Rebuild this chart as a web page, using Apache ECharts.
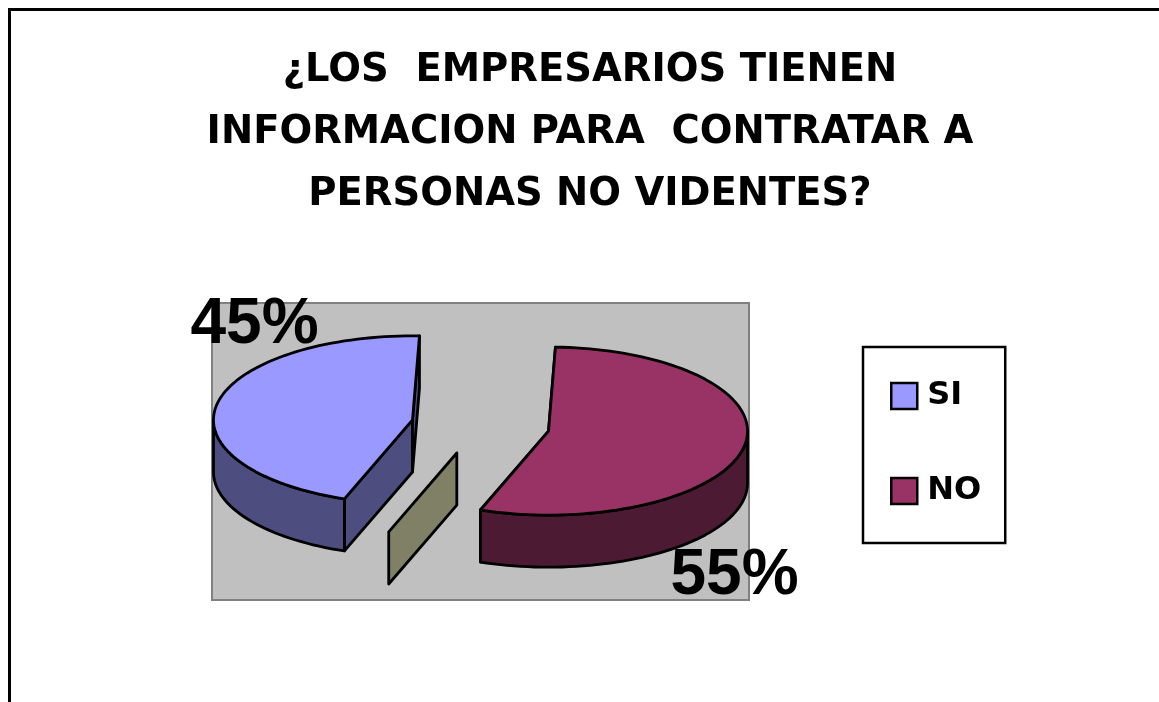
<!DOCTYPE html>
<html>
<head>
<meta charset="utf-8">
<title>Empresarios</title>
<style>
    html, body { margin: 0; padding: 0; background: #fff; }
    #main { width: 1159px; height: 702px; }
</style>
<script src="https://cdn.jsdelivr.net/npm/echarts@6/dist/echarts.min.js"></script>
</head>
<body>
<div id="main"></div>
<script>
    // datos
    const titleLines = ['¿LOS  EMPRESARIOS TIENEN', 'INFORMACION PARA  CONTRATAR A', 'PERSONAS NO VIDENTES?']
    const categories = ['SI', 'NO', '']
    const values = [45, 55, 0]
    const legendNames = ['SI', 'NO']

    const topColors = ['#9999ff', '#993366', '#ffffcc']
    const wallColors = ['#4d4d80', '#4d1a33', '#808066']
    // desplazamiento de la etiqueta respecto al vertice de la porcion, en px
    const labelOffsets = [[-158, -95], [186, 145], [0, 0]]

    const firstAngle = 200
    const explode = 0.348
    const depth = 0.62
    const titleFont = '"DejaVu Sans"'

    const total = values.reduce((a, b) => a + b, 0)
    const rad = d => d * Math.PI / 180

    function sliceAngles(index) {
        let a0 = firstAngle
        for (let i = 0; i < index; i++) a0 += values[i] / total * 360
        return [a0, a0 + values[index] / total * 360]
    }

    function arcPoints(a0, a1, ax, ay) {
        const pts = []
        const steps = Math.max(1, Math.ceil((a1 - a0) / 2))
        for (let i = 0; i <= steps; i++) {
            const t = rad(a0 + (a1 - a0) * i / steps)
            pts.push([ax + Math.sin(t), ay + Math.cos(t)])
        }
        return pts
    }

    const makeRender = (index) => (params, api) => {
        const [a0, a1] = sliceAngles(index)
        const mid = rad((a0 + a1) / 2)
        const ax = explode * Math.sin(mid)
        const ay = explode * Math.cos(mid)
        const line = { stroke: '#000', lineWidth: 2.8, lineJoin: 'round' }
        const poly = (pts, fill) => ({
            type: 'polygon',
            shape: { points: pts.map(p => api.coord(p)) },
            style: Object.assign({ fill }, line)
        })
        const low = p => [p[0], p[1] - depth]
        const children = []

        // paredes radiales
        const wallAngles = a1 > a0 ? [a0, a1] : [a0]
        wallAngles.forEach(a => {
            const rim = arcPoints(a, a, ax, ay)[0]
            const apex = [ax, ay]
            children.push(poly([apex, rim, low(rim), low(apex)], wallColors[index]))
        })

        // pared exterior, solo la parte que mira al frente
        ;[[90, 270], [450, 630]].forEach(([f0, f1]) => {
            const s = Math.max(a0, f0)
            const e = Math.min(a1, f1)
            if (e > s) {
                const rim = arcPoints(s, e, ax, ay)
                children.push(poly(rim.concat(rim.map(low).reverse()), wallColors[index]))
            }
        })

        // cara superior
        if (a1 > a0) {
            children.push(poly([[ax, ay]].concat(arcPoints(a0, a1, ax, ay)), topColors[index]))
            const c = api.coord([ax, ay])
            children.push({
                type: 'text',
                z2: 10,
                style: {
                    text: api.value(2) + '%',
                    x: c[0] + labelOffsets[index][0],
                    y: c[1] + labelOffsets[index][1],
                    fill: '#000',
                    fontFamily: 'Liberation Sans',
                    fontWeight: 'bold',
                    fontSize: 64,
                    align: 'center',
                    verticalAlign: 'middle'
                }
            })
        }
        return { type: 'group', children }
    }

    const myChart = echarts.init(document.getElementById('main'))
    const option = {
        animation: false,
        backgroundColor: '#fff',
        title: {
            text: titleLines.join('\n'),
            left: 585,
            top: 35,
            textAlign: 'center',
            textStyle: {
                color: '#000',
                fontFamily: titleFont,
                fontWeight: 'bold',
                fontSize: 38.5,
                lineHeight: 62
            }
        },
        graphic: [{
            type: 'polyline',
            silent: true,
            shape: { points: [[9.5, 702], [9.5, 9.5], [1159, 9.5]] },
            style: { stroke: '#000', lineWidth: 3, fill: null }
        }],
        grid: {
            left: 212,
            top: 303,
            width: 537,
            height: 297,
            show: true,
            backgroundColor: '#c0c0c0',
            borderColor: '#808080',
            borderWidth: 2
        },
        xAxis: { type: 'value', min: -1.349, max: 1.349, show: false },
        yAxis: { type: 'value', min: -2.077, max: 1.458, show: false },
        legend: {
            data: legendNames,
            orient: 'vertical',
            left: 863,
            top: 347,
            icon: 'rect',
            itemWidth: 26,
            itemHeight: 26,
            itemGap: 63,
            itemStyle: { borderColor: '#000', borderWidth: 2.5 },
            backgroundColor: '#fff',
            borderColor: '#000',
            borderWidth: 2.5,
            padding: [33, 24, 36, 27],
            textStyle: {
                color: '#000',
                fontFamily: titleFont,
                fontWeight: 'bold',
                fontSize: 32,
                padding: [12, 0, 0, 5]
            }
        },
        series: categories.map((name, i) => ({
            name: name,
            type: 'custom',
            coordinateSystem: 'cartesian2d',
            renderItem: makeRender(i),
            itemStyle: { color: topColors[i] },
            encode: { x: 0, y: 1 },
            data: [[0, 0, values[i]]]
        }))
    }
    myChart.setOption(option)
    window.addEventListener('resize', function() {
        myChart.resize()
    })
</script>
</body>
</html>
